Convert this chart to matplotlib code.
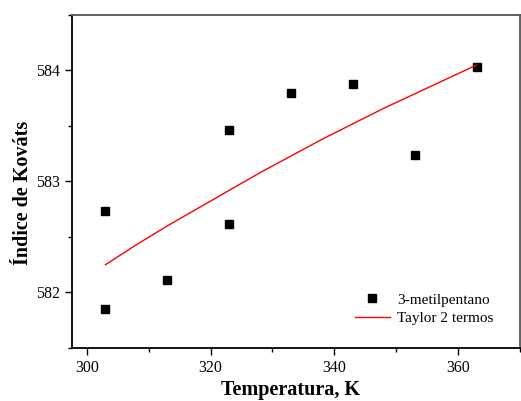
import matplotlib
matplotlib.use("Agg")
import matplotlib.pyplot as plt
from matplotlib.ticker import MultipleLocator

plt.rcParams['font.family'] = ['Liberation Serif', 'DejaVu Serif']

temps = [303, 303, 313, 323, 323, 333, 343, 353, 363]
kovats = [582.73, 581.85, 582.11, 583.46, 582.62, 583.80, 583.88, 583.24, 584.03]

fit_temps = [303, 308, 313, 318, 323, 328, 333, 338, 343, 348, 353, 358, 363]
fit_kovats = [582.25, 582.43, 582.60, 582.76, 582.92, 583.08, 583.23, 583.38,
              583.52, 583.66, 583.79, 583.92, 584.05]

fig = plt.figure(figsize=(5.21, 4.01), dpi=100)
ax = fig.add_axes([72/521, 1 - 348/401, (520 - 72)/521, (348 - 15)/401])

ax.plot(temps, kovats, linestyle='none', marker='s', markersize=5.5,
        color='black', label='3-metilpentano')
ax.plot(fit_temps, fit_kovats, color='red', linewidth=1.0,
        label='Taylor 2 termos')

ax.set_xlim(297.6, 370)
ax.set_ylim(581.5, 584.5)
ax.xaxis.set_major_locator(MultipleLocator(20))
ax.xaxis.set_minor_locator(MultipleLocator(10))
ax.yaxis.set_major_locator(MultipleLocator(1))
ax.yaxis.set_minor_locator(MultipleLocator(0.5))

ax.tick_params(which='both', direction='out', top=False, right=False,
               labelsize=11.5, width=1.0, color='black')
ax.tick_params(which='major', length=5)
ax.tick_params(which='minor', length=3)

for side in ['left', 'bottom']:
    ax.spines[side].set_linewidth(1.3)
    ax.spines[side].set_color('black')
for side in ['top', 'right']:
    ax.spines[side].set_linewidth(1.3)
    ax.spines[side].set_color('#555555')

ax.set_xlabel('Temperatura, K', fontsize=14.5, fontweight='bold')
ax.set_ylabel('Índice de Kováts', fontsize=14.5, fontweight='bold')
ax.xaxis.set_label_coords(0.488, -0.095)
ax.yaxis.set_label_coords(-0.088, 0.467)

ax.legend(loc='lower right', frameon=False, fontsize=11,
          bbox_to_anchor=(0.972, 0.028), handlelength=2.3, handletextpad=0.5,
          labelspacing=0.3)

fig.savefig('out.png', dpi=100)
